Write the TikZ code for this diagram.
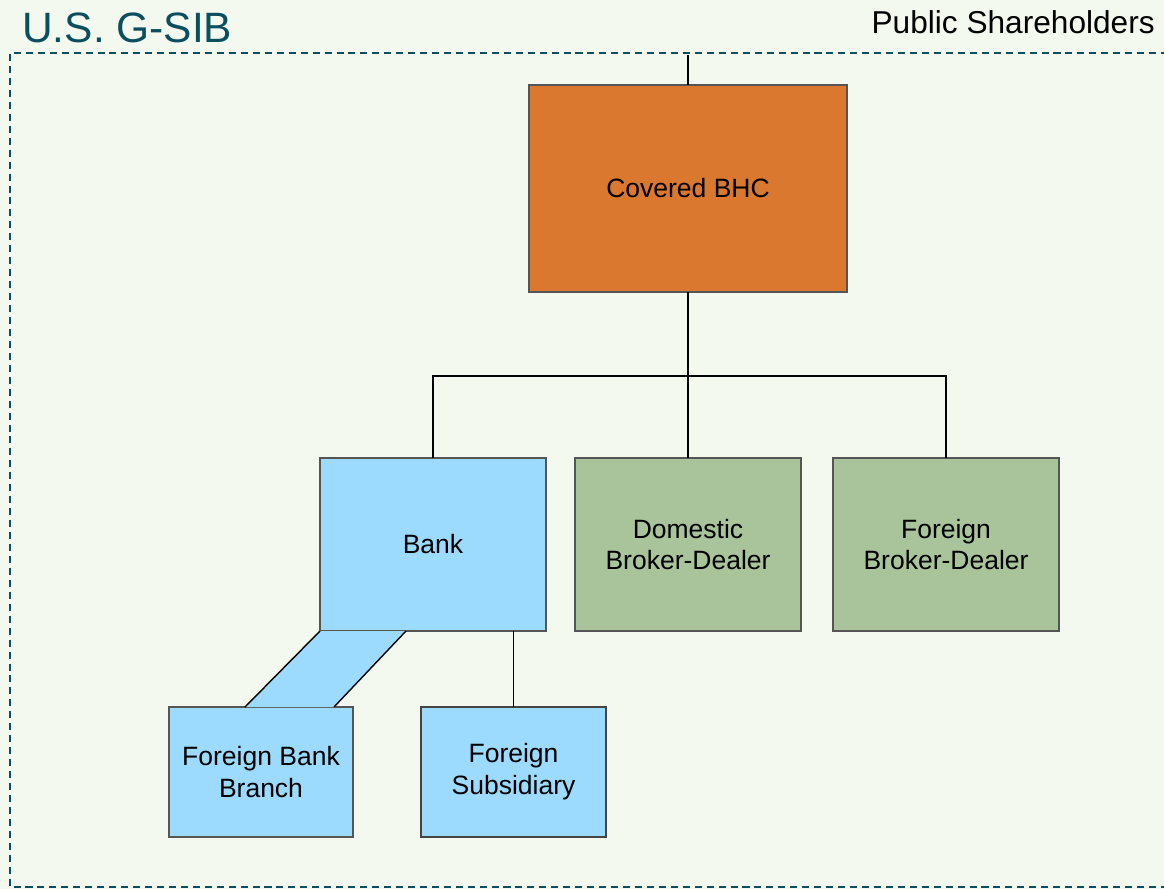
\documentclass[tikz,border=0pt]{standalone}
\usepackage{fontspec}
\setmainfont{Liberation Sans}
\usepackage{tikz}
\usetikzlibrary{calc, positioning}

\definecolor{bgcol}{HTML}{F4F9F0}
\definecolor{framecol}{HTML}{0B4F5F}
\definecolor{bhccol}{HTML}{DB7830}
\definecolor{bankcol}{HTML}{9CDBFD}
\definecolor{bdcol}{HTML}{A9C49A}
\definecolor{edgecol}{HTML}{555555}

\begin{document}
\begin{tikzpicture}[
    entity/.style={draw=edgecol, line width=1pt, outer sep=0pt, align=center,
      font=\fontsize{18.85}{22.7}\selectfont},
    link/.style={line width=1.4pt, black}]
\fill[bgcol] (0,0) rectangle (29.1,-22.225);
\useasboundingbox (0,0) rectangle (29.1,-22.225);

\draw[framecol, line width=1.3pt, dash pattern=on 5pt off 3.5pt]
  (29.5,-1.325) -- (0.25,-1.325) -- (0.25,-22.175) -- (29.5,-22.175);
\node[anchor=base west, text=framecol, font=\fontsize{30.2}{36}\selectfont, inner sep=0pt] (gsib) at (0.55,-1.05) {U.S. G-SIB};
\node[anchor=base east, font=\fontsize{22.5}{27}\selectfont, inner sep=0pt] (public) at (28.875,-0.825) {Public Shareholders};
\coordinate (top) at (17.2,-1.375);

\node[entity, fill=bhccol, minimum width=7.95cm, minimum height=5.175cm] (bhc) at (17.2,-4.7125) {Covered BHC};
\node[entity, fill=bankcol, minimum width=5.65cm, minimum height=4.325cm] (bank) at (10.825,-13.6125) {Bank};
\node[entity, fill=bdcol, minimum width=5.65cm, minimum height=4.325cm] (dom) at (17.2,-13.6125) {Domestic\\Broker-Dealer};
\node[entity, fill=bdcol, minimum width=5.65cm, minimum height=4.325cm] (fbd) at (23.65,-13.6125) {Foreign\\Broker-Dealer};
\node[entity, fill=bankcol, minimum width=4.6cm, minimum height=3.25cm] (fbb) at (6.525,-19.3) {Foreign Bank\\Branch};
\node[entity, fill=bankcol, minimum width=4.625cm, minimum height=3.25cm, line width=1.5pt, draw=edgecol!80!black] (fsub) at (12.8375,-19.3) {Foreign\\Subsidiary};

\coordinate (bus) at (17.2,-9.4);
\draw[link] (top) -- (bhc.north);
\draw[link] (bhc.south) -- (dom.north);
\draw[link] (bank.north) -- (bank.north |- bus) -- (fbd.north |- bus) -- (fbd.north);
\draw[link] (bank.south -| fsub.north) -- (fsub.north);

\fill[bankcol] (bank.south west) -- ($(bank.south west)+(2.15,0)$) -- ($(fbb.north west)+(4.125,0)$) -- ($(fbb.north west)+(1.9,0)$) -- cycle;
\draw[link, line width=1pt] (bank.south west) -- ($(fbb.north west)+(1.9,0)$);
\draw[link, line width=1pt] ($(bank.south west)+(2.15,0)$) -- ($(fbb.north west)+(4.125,0)$);

\end{tikzpicture}
\end{document}
